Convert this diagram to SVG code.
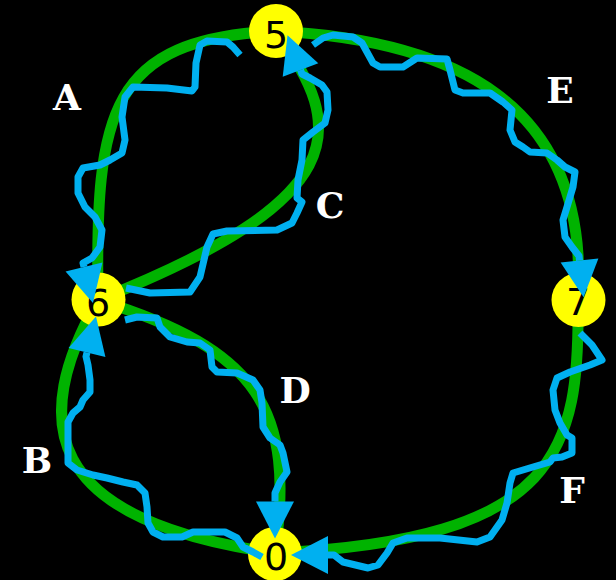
<svg xmlns="http://www.w3.org/2000/svg" width="616" height="580" viewBox="0 0 616 580">
<style>
.edge{fill:none;stroke:#00b300;stroke-width:11}
.flow{fill:none;stroke:#00b0f0;stroke-width:7;stroke-linejoin:round;stroke-linecap:butt;marker-end:url(#arr)}
.node{fill:#ffff00}
.num{font-family:"DejaVu Sans",sans-serif;font-size:38px;fill:#000;text-anchor:middle}
.lbl{font-family:"DejaVu Serif","Liberation Serif",serif;font-weight:bold;font-size:36px;fill:#fff;text-anchor:middle}
</style>
<defs>
<marker id="arr" markerUnits="userSpaceOnUse" markerWidth="40" markerHeight="40" viewBox="0 -20 38 40" refX="0" refY="0" orient="auto">
<path d="M0,-19 L37,0 L0,19 z" fill="#00b0f0"/>
</marker>
</defs>
<rect width="616" height="580" fill="#000"/>
<g id="edges">
<path id="edge-A" class="edge" d="M275,31 C110,40 95,110 98,300"/>
<path id="edge-C" class="edge" d="M275,31 C350,130 350,200 98,300"/>
<path id="edge-E" class="edge" d="M275,31 C450,40 590,100 578,300"/>
<path id="edge-F" class="edge" d="M578,300 C580,450 560,540 275,553"/>
<path id="edge-B" class="edge" d="M98,300 C30,420 40,520 275,553"/>
<path id="edge-D" class="edge" d="M98,300 C260,350 295,410 275,553"/>
</g>
<g id="node-5"><circle class="node" cx="276" cy="31" r="27"/><text class="num" x="276" y="48">5</text></g>
<g id="node-6"><circle class="node" cx="98.5" cy="299.5" r="27"/><text class="num" x="98" y="316">6</text></g>
<g id="node-7"><circle class="node" cx="578.5" cy="300" r="27"/><text class="num" x="578" y="315">7</text></g>
<g id="node-0"><circle class="node" cx="275" cy="554" r="27"/><text class="num" x="276" y="570">0</text></g>
<g id="connectors">
<polyline id="flow-A" class="flow" points="240,55 233,47 227,42 207,41 200,45 196,63 195,87 192,91 167,88 133,87 125,97 122,117 125,140 122,153 110,160 100,165 83,168 78,177 78,193 85,207 95,217 102,230 100,247 92,258 83,263 84,267"/>
<polyline id="flow-C" class="flow" points="126,288 150,293 190,292 200,277 207,247 213,234 227,231 277,230 292,223 297,213 302,202 297,198 298,180 302,160 303,140 313,132 325,123 328,110 327,92 322,85 310,78 302,74 300.5,70"/>
<polyline id="flow-E" class="flow" points="313,45 323,38 333,35 353,37 362,43 373,63 380,67 403,67 417,58 447,59 450,70 455,90 463,93 490,93 503,102 512,110 510,130 515,142 523,147 530,152 547,153 557,160 565,167 575,172 573,187 567,207 563,220 565,237 572,247 579,256 579.5,260.5"/>
<polyline id="flow-F" class="flow" points="580,333 592,345 602,360 590,365 570,372 557,378 553,390 555,410 560,423 567,435 572,438 572,453 562,457 553,458 550,462 533,467 513,473 510,483 507,503 502,520 490,537 477,542 440,538 407,538 393,543 387,553 378,565 368,568 343,562 334,555 328,555"/>
<polyline id="flow-D" class="flow" points="125,320 137,317 157,318 160,327 170,337 187,342 200,343 210,350 212,367 217,372 237,373 253,380 260,390 262,403 263,427 270,438 280,445 283,453 287,472 280,482 275,493 275,501.5"/>
<polyline id="flow-B" class="flow" points="262,557 253,552 243,547 237,538 225,532 193,532 182,537 163,537 153,532 148,523 147,507 145,493 137,485 123,482 107,478 93,475 77,470 68,463 68,447 68,422 73,413 80,407 83,400 90,392 90,380 88,365 86,356.5 87,352.5"/>
</g>
<g id="labels">
<text class="lbl" x="67" y="110">A</text>
<text class="lbl" x="560" y="103">E</text>
<text class="lbl" x="330" y="218">C</text>
<text class="lbl" x="295" y="403">D</text>
<text class="lbl" x="37" y="473">B</text>
<text class="lbl" x="572" y="503">F</text>
</g>
</svg>
